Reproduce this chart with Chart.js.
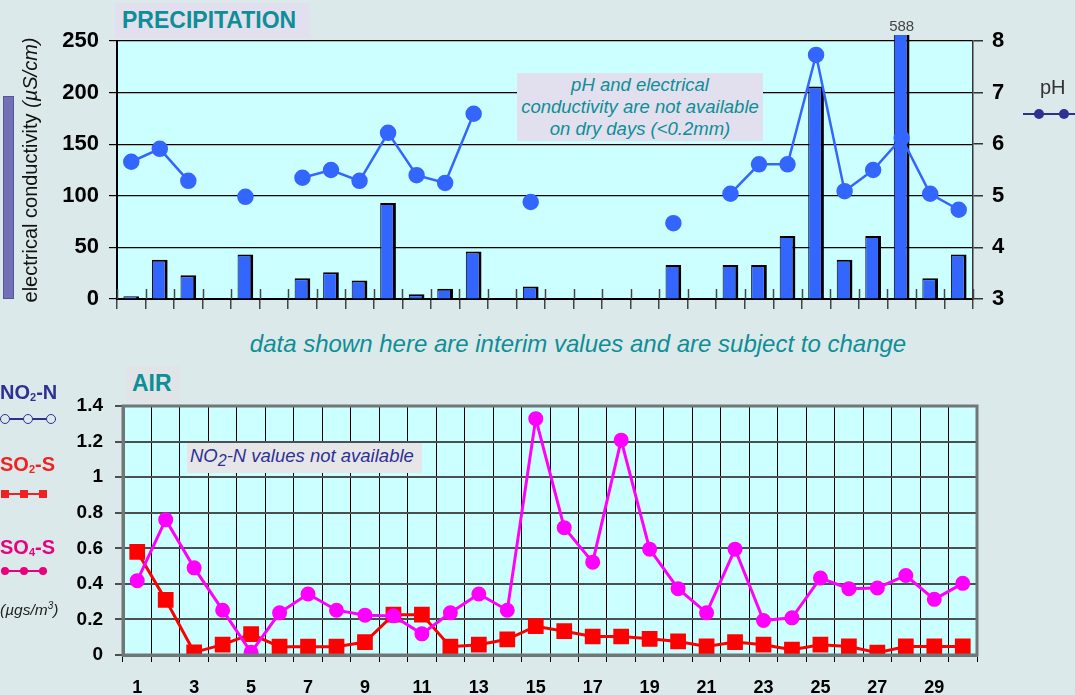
<!DOCTYPE html>
<html lang="en">
<head>
<meta charset="UTF-8">
<title>Precipitation and Air</title>
<script src="https://cdn.jsdelivr.net/npm/chart.js"></script>
<style>
  body { margin: 0; background: #dce9ea; font-family: "Liberation Sans", Arial, sans-serif; }
  #page { position: relative; width: 1075px; height: 695px; overflow: hidden; }
  .abs { position: absolute; }
  .box-title { background: #e2e0ee; color: #0e8e96; font-weight: bold; font-size: 23px; line-height: 34px; }
  .note { color: #0e8e96; font-style: italic; font-size: 18.5px; text-align: center; line-height: 22px; background: #e2e0ee; }
  .leg { font-weight: bold; font-size: 20px; }
  .leg sub { font-size: 11px; vertical-align: -2px; }
  .dot { position: absolute; border-radius: 50%; }
</style>
</head>
<body>
<div id="page">
  <div class="abs" style="left:0;top:0;width:1075px;height:330px;"><canvas id="precip" width="1075" height="330"></canvas></div>
  <div class="abs" style="left:0;top:370px;width:1075px;height:325px;"><canvas id="air" width="1075" height="325"></canvas></div>

  <!-- precipitation labels -->
  <div class="abs box-title" style="left:115px;top:3px;width:195px;height:35px;padding-left:7px;box-sizing:border-box;">PRECIPITATION</div>
  <div class="abs note" style="left:517px;top:73px;width:246px;height:68px;padding-top:1px;box-sizing:border-box;">pH and electrical<br>conductivity are not available<br>on dry days (&lt;0.2mm)</div>
  <div class="abs" style="left:3px;top:96px;width:9px;height:201px;background:#7470b8;border:1px solid #55559a;"></div>
  <div class="abs" style="left:30px;top:170px;transform:translate(-50%,-50%) rotate(-90deg);white-space:nowrap;font-size:20px;color:#111;">electrical conductivity <i>(µS/cm)</i></div>
  <div class="abs" style="left:1040px;top:76px;font-size:20px;color:#333;">pH</div>
  <div class="abs" style="left:1023px;top:113px;width:52px;height:2px;background:#2e3192;"></div>
  <div class="dot" style="left:1034px;top:109px;width:10px;height:10px;background:#2e3192;"></div>
  <div class="dot" style="left:1059px;top:109px;width:10px;height:10px;background:#2e3192;"></div>

  <div class="abs" style="left:0;width:1156px;top:330px;text-align:center;font-style:italic;font-size:24px;color:#0e8e96;">data shown here are interim values and are subject to change</div>

  <!-- air labels -->
  <div class="abs box-title" style="left:126px;top:366px;width:54px;height:36px;padding-left:6px;box-sizing:border-box;background:#e0e4e6;">AIR</div>
  <div class="abs" style="left:187px;top:443px;width:235px;height:30px;background:#e6e6e8;color:#2e3192;font-style:italic;font-size:18.5px;line-height:26px;padding-left:3px;box-sizing:border-box;">NO<sub style="font-size:16px;vertical-align:-4px;">2</sub>-N values not available</div>

  <div class="abs leg" style="left:0;top:381px;color:#2e3192;">NO<sub>2</sub>-N</div>
  <div class="abs" style="left:4px;top:418px;width:52px;height:2px;background:#2e3192;"></div>
  <div class="dot" style="left:0;top:414px;width:8px;height:8px;border:1.5px solid #2e3192;background:#dce9ea;"></div>
  <div class="dot" style="left:23px;top:414px;width:8px;height:8px;border:1.5px solid #2e3192;background:#dce9ea;"></div>
  <div class="dot" style="left:46px;top:414px;width:8px;height:8px;border:1.5px solid #2e3192;background:#dce9ea;"></div>

  <div class="abs leg" style="left:0;top:453px;color:#ee2222;">SO<sub>2</sub>-S</div>
  <div class="abs" style="left:3px;top:493px;width:44px;height:2px;background:#ee2222;"></div>
  <div class="abs" style="left:1px;top:490px;width:8px;height:8px;background:#ee2222;"></div>
  <div class="abs" style="left:20px;top:490px;width:8px;height:8px;background:#ee2222;"></div>
  <div class="abs" style="left:39px;top:490px;width:8px;height:8px;background:#ee2222;"></div>

  <div class="abs leg" style="left:0;top:536px;color:#e8007d;">SO<sub>4</sub>-S</div>
  <div class="abs" style="left:3px;top:570px;width:44px;height:2px;background:#e8007d;"></div>
  <div class="dot" style="left:1px;top:567px;width:8px;height:8px;background:#e8007d;"></div>
  <div class="dot" style="left:20px;top:567px;width:8px;height:8px;background:#e8007d;"></div>
  <div class="dot" style="left:39px;top:567px;width:8px;height:8px;background:#e8007d;"></div>

  <div class="abs" style="left:0;top:600px;font-style:italic;font-size:15.5px;color:#222;">(µgs/m<sup style="font-size:10px;">3</sup>)</div>
</div>

<script>
// day categories
const days = ['1','2','3','4','5','6','7','8','9','10','11','12','13','14','15',
              '16','17','18','19','20','21','22','23','24','25','26','27','28','29','30'];

// precipitation: electrical conductivity (uS/cm) and pH, null = dry day
const conductivity = [2.6, 38, 23, null, 43, null, 20, 26, 18, 93, 4.5, 10, 46, null, 12,
                      null, null, null, null, 33, null, 33, 33, 61, 206, 38, 61, 588, 20, 43];
const ph = [5.66, 5.91, 5.29, null, 4.98, null, 5.35, 5.50, 5.29, 6.22, 5.40, 5.25, 6.59, null, 4.88,
            null, null, null, null, 4.47, null, 5.04, 5.61, 5.61, 7.73, 5.09, 5.50, 6.12, 5.04, 4.73];

// air (ugs/m3)
const no2n = days.map(() => null); // not available
const so2s = [0.58, 0.31, 0.015, 0.058, 0.117, 0.047, 0.047, 0.047, 0.073, 0.227, 0.227, 0.047, 0.058, 0.088, 0.162,
              0.134, 0.104, 0.104, 0.091, 0.076, 0.048, 0.073, 0.058, 0.03, 0.058, 0.048, 0.013, 0.048, 0.048, 0.048];
const so4s = [0.418, 0.761, 0.49, 0.252, 0.015, 0.237, 0.343, 0.252, 0.224, 0.22, 0.119, 0.237, 0.343, 0.252, 1.329,
              0.716, 0.522, 1.208, 0.595, 0.373, 0.237, 0.595, 0.194, 0.209, 0.433, 0.373, 0.377, 0.447, 0.313, 0.403];

Chart.defaults.font.family = '"Liberation Sans", Arial, sans-serif';
Chart.defaults.color = '#000';

// cyan plot background
const plotBg = {
    id: 'plotBg',
    beforeDraw(chart) {
        const a = chart.chartArea, ctx = chart.ctx;
        ctx.save();
        ctx.fillStyle = '#ccffff';
        ctx.fillRect(a.left, a.top, a.right - a.left, a.bottom - a.top);
        ctx.restore();
    }
};

// short day ticks crossing the x axis + value label for bars off the scale
const precipExtras = {
    id: 'precipExtras',
    afterDraw(chart) {
        const ctx = chart.ctx, x = chart.scales.x, a = chart.chartArea;
        ctx.save();
        ctx.strokeStyle = '#444';
        ctx.lineWidth = 1.5;
        for (let i = 0; i <= days.length; i++) {
            const px = Math.round(x.getPixelForValue(i - 0.5)) + 0.5;
            ctx.beginPath();
            ctx.moveTo(px, a.bottom - 10);
            ctx.lineTo(px, a.bottom);
            ctx.stroke();
        }
        const max = chart.scales.y.max;
        const meta = chart.getDatasetMeta(0);
        ctx.fillStyle = '#444';
        ctx.font = '15px "Liberation Sans Narrow", "Liberation Sans", Arial';
        ctx.textAlign = 'center';
        ctx.textBaseline = 'bottom';
        conductivity.forEach((v, i) => {
            if (v !== null && v > max) ctx.fillText(String(v), meta.data[i].x, a.top - 7);
        });
        ctx.restore();
    }
};

new Chart(document.getElementById('precip'), {
    data: {
        labels: days,
        datasets: [
            {
                type: 'bar',
                label: 'electrical conductivity',
                data: conductivity,
                yAxisID: 'y',
                backgroundColor: '#3366ff',
                borderColor: '#000',
                borderWidth: { left: 1, top: 2, right: 3, bottom: 0 },
                borderSkipped: false,
                categoryPercentage: 1,
                barPercentage: 0.55,
                clip: { left: 0, top: 6, right: 0, bottom: 0 },
                order: 2
            },
            {
                type: 'line',
                label: 'pH',
                data: ph,
                yAxisID: 'ph',
                borderColor: '#3366ff',
                backgroundColor: '#3366ff',
                borderWidth: 2.5,
                pointRadius: 7,
                pointHoverRadius: 7,
                order: 1
            }
        ]
    },
    options: {
        responsive: false,
        animation: false,
        layout: { padding: { left: 0, right: 62, top: 41, bottom: 0 } },
        plugins: { legend: { display: false }, tooltip: { enabled: false } },
        scales: {
            x: {
                offset: true,
                grid: { offset: true, drawOnChartArea: false, tickLength: 10, color: '#444', lineWidth: 1.5 },
                ticks: { display: false },
                border: { color: '#000', width: 2 },
                afterFit: s => { s.height = 31; }
            },
            y: {
                position: 'left',
                min: 0, max: 250,
                ticks: { stepSize: 50, font: { size: 22, weight: 'bold' }, padding: 10 },
                grid: { color: '#000', lineWidth: 1.2, tickLength: 8 },
                border: { color: '#000', width: 2 },
                afterFit: s => { s.width = 117; }
            },
            ph: {
                position: 'right',
                min: 3, max: 8,
                ticks: { stepSize: 1, font: { size: 22, weight: 'bold' }, padding: 9 },
                grid: { drawOnChartArea: false, tickLength: 10, color: '#333', lineWidth: 1.5 },
                border: { color: '#333', width: 1.5 },
                afterFit: s => { s.width = 40; }
            }
        }
    },
    plugins: [plotBg, precipExtras]
});

const airBorder = {
    id: 'airBorder',
    afterDraw(chart) {
        const a = chart.chartArea, ctx = chart.ctx;
        ctx.save();
        ctx.strokeStyle = '#6f7777';
        ctx.lineWidth = 3;
        ctx.strokeRect(a.left, a.top, a.right - a.left, a.bottom - a.top);
        ctx.restore();
    }
};

new Chart(document.getElementById('air'), {
    type: 'line',
    data: {
        labels: days,
        datasets: [
            {
                label: 'NO2-N',
                data: no2n,
                borderColor: '#2e3192',
                backgroundColor: '#fff',
                pointRadius: 5
            },
            {
                label: 'SO2-S',
                data: so2s,
                borderColor: '#ff0000',
                backgroundColor: '#ff0000',
                borderWidth: 3,
                pointStyle: 'rect',
                pointRadius: 9,
                pointHoverRadius: 9,
                order: 2
            },
            {
                label: 'SO4-S',
                data: so4s,
                borderColor: '#ff00ff',
                backgroundColor: '#ff00ff',
                borderWidth: 3,
                pointRadius: 6,
                pointHoverRadius: 6,
                order: 1
            }
        ]
    },
    options: {
        responsive: false,
        animation: false,
        layout: { padding: { left: 0, right: 98, top: 36, bottom: 0 } },
        plugins: { legend: { display: false }, tooltip: { enabled: false } },
        scales: {
            x: {
                offset: true,
                grid: { offset: true, color: '#000', lineWidth: 1, tickLength: 7 },
                ticks: {
                    autoSkip: false, maxRotation: 0,
                    font: { size: 18, weight: 'bold' }, padding: 15,
                    callback: (v, i) => (i % 2 === 0 ? days[i] : '')
                },
                border: { color: '#6f7777', width: 3 },
                afterFit: s => { s.height = 40; }
            },
            y: {
                min: 0, max: 1.4,
                ticks: {
                    stepSize: 0.2, font: { size: 19, weight: 'bold' }, padding: 12,
                    callback: v => String(Math.round(v * 10) / 10)
                },
                grid: { color: '#4a4f4f', lineWidth: 2, tickLength: 8 },
                border: { color: '#6f7777', width: 3 },
                afterFit: s => { s.width = 123; }
            }
        }
    },
    plugins: [plotBg, airBorder]
});
</script>
</body>
</html>
